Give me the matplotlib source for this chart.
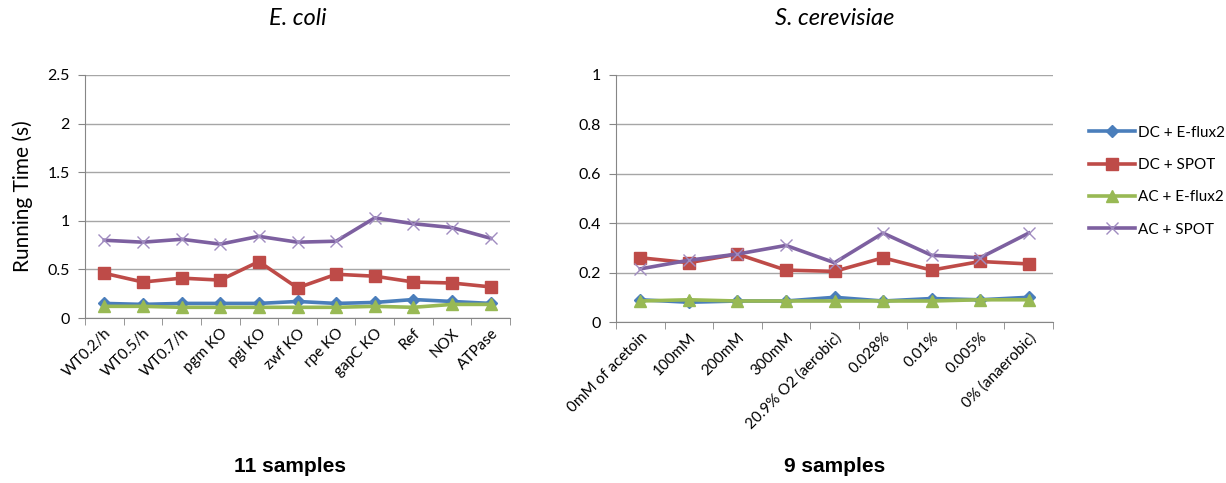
import matplotlib
matplotlib.use("Agg")
import matplotlib.pyplot as plt
import numpy as np

ecoli_cats = ["WT0.2/h", "WT0.5/h", "WT0.7/h", "pgm KO", "pgi KO", "zwf KO",
              "rpe KO", "gapC KO", "Ref", "NOX", "ATPase"]
ecoli_dc_eflux = [0.15, 0.14, 0.15, 0.15, 0.15, 0.17, 0.15, 0.16, 0.19, 0.17, 0.15]
ecoli_dc_spot = [0.46, 0.37, 0.41, 0.39, 0.58, 0.31, 0.45, 0.43, 0.37, 0.36, 0.32]
ecoli_ac_eflux = [0.12, 0.12, 0.11, 0.11, 0.11, 0.11, 0.11, 0.12, 0.11, 0.14, 0.14]
ecoli_ac_spot = [0.80, 0.78, 0.81, 0.76, 0.84, 0.78, 0.79, 1.03, 0.97, 0.93, 0.82]

yeast_cats = ["0mM of acetoin", "100mM", "200mM", "300mM", "20.9% O2 (aerobic)",
              "0.028%", "0.01%", "0.005%", "0% (anaerobic)"]
yeast_dc_eflux = [0.09, 0.08, 0.085, 0.085, 0.10, 0.085, 0.095, 0.09, 0.10]
yeast_dc_spot = [0.26, 0.24, 0.275, 0.21, 0.205, 0.26, 0.21, 0.245, 0.235]
yeast_ac_eflux = [0.085, 0.09, 0.085, 0.085, 0.085, 0.085, 0.085, 0.09, 0.09]
yeast_ac_spot = [0.215, 0.25, 0.275, 0.31, 0.24, 0.36, 0.27, 0.26, 0.36]

series_names = ["DC + E-flux2", "DC + SPOT", "AC + E-flux2", "AC + SPOT"]
colors = ["#4a7ebb", "#be4b48", "#98b954", "#7d60a0"]
markers = ["D", "s", "^", "x"]
msizes = [6, 9, 8, 9]

FONT = ["Lato", "DejaVu Sans"]
plt.rcParams["font.family"] = FONT

fig = plt.figure(figsize=(12.26, 4.83), dpi=100)
ax1 = fig.add_axes([85/1226, 1-318/483, (510-85)/1226, (318-75)/483])
ax2 = fig.add_axes([616/1226, 1-322/483, (1053-616)/1226, (322-75)/483])

def style(ax, cats, data, ymax, ystep, title):
    x = np.arange(len(cats))
    handles = []
    for vals, c, m, ms, name in zip(data, colors, markers, msizes, series_names):
        if m == "x":
            h, = ax.plot(x, vals, color=c, lw=2.6, marker=m, ms=ms, mew=1.0,
                         mec="#a08cc0", label=name, zorder=3)
        else:
            h, = ax.plot(x, vals, color=c, lw=2.6, marker=m, ms=ms, mec=c,
                         label=name, zorder=3)
        handles.append(h)
    ax.set_xlim(-0.5, len(cats) - 0.5)
    ax.set_ylim(0, ymax)
    yt = np.round(np.arange(0, ymax + 1e-9, ystep), 2)
    ax.set_yticks(yt)
    ax.set_yticklabels([("%g" % v) for v in yt], fontsize=11.5)
    ax.yaxis.grid(True, color="#a6a6a6", lw=1.0)
    ax.set_axisbelow(True)
    ax.set_xticks(x)
    ax.set_xticklabels(cats, rotation=45, ha="right", rotation_mode="anchor",
                       fontsize=11)
    ax.set_xticks(np.arange(-0.5, len(cats)), minor=True)
    ax.tick_params(axis="x", which="major", length=0, pad=6)
    ax.tick_params(axis="x", which="minor", length=5, color="#868686")
    ax.tick_params(axis="y", length=5, color="#868686", pad=6)
    for s in ["top", "right"]:
        ax.spines[s].set_visible(False)
    for s in ["left", "bottom"]:
        ax.spines[s].set_color("#868686")
    ax.set_title(title, fontstyle="italic", fontsize=17, pad=36)
    return handles

h = style(ax1, ecoli_cats,
          [ecoli_dc_eflux, ecoli_dc_spot, ecoli_ac_eflux, ecoli_ac_spot],
          2.5, 0.5, "E. coli")
style(ax2, yeast_cats,
      [yeast_dc_eflux, yeast_dc_spot, yeast_ac_eflux, yeast_ac_spot],
      1.0, 0.2, "S. cerevisiae")

ax1.set_ylabel("Running Time (s)", fontsize=15, labelpad=10)

fig.text(290/1226, 1-466/483, "11 samples", ha="center", va="center",
         fontsize=15, fontweight="bold", family=["Liberation Sans", "DejaVu Sans"])
fig.text(835/1226, 1-466/483, "9 samples", ha="center", va="center",
         fontsize=15, fontweight="bold", family=["Liberation Sans", "DejaVu Sans"])

fig.legend(handles=h, labels=series_names, loc="upper left",
           bbox_to_anchor=(1075/1226, 1-112/483), frameon=False, fontsize=11,
           handlelength=3.0, handletextpad=0.2, labelspacing=1.2)

fig.savefig("out.png", dpi=100)
